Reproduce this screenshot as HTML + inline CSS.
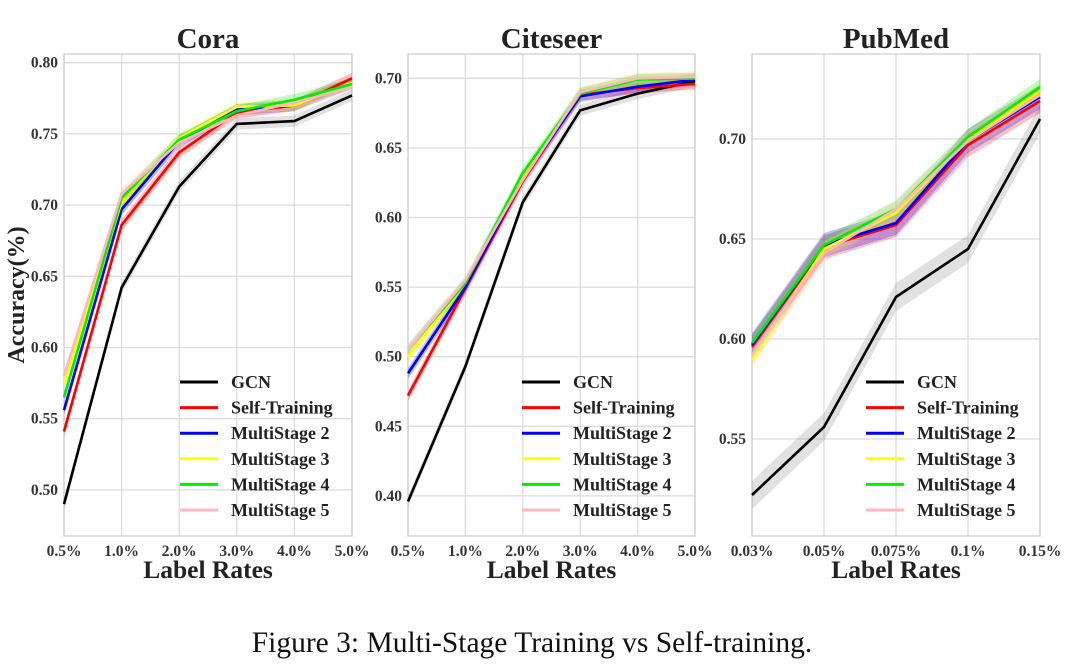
<!DOCTYPE html>
<html><head><meta charset="utf-8">
<style>
html,body{margin:0;padding:0;background:#fff;}
svg{display:block;font-family:"Liberation Serif",serif;}
</style></head>
<body>
<svg id="fig" width="1080" height="671" viewBox="0 0 1080 671"></svg>
<script>
const seriesNames = ["GCN","Self-Training","MultiStage 2","MultiStage 3","MultiStage 4","MultiStage 5"];
const seriesColors = ["#000000","#ff0000","#0000ff","#ffff00","#00ee00","#ffb6c1"];

const coraCats = ["0.5%","1.0%","2.0%","3.0%","4.0%","5.0%"];
const coraTicks = [0.50,0.55,0.60,0.65,0.70,0.75,0.80];
const coraGCN = [0.490,0.642,0.713,0.757,0.759,0.777];
const coraSelf = [0.541,0.686,0.737,0.765,0.770,0.789];
const coraMS2 = [0.556,0.697,0.745,0.767,0.770,0.786];
const coraMS3 = [0.575,0.702,0.747,0.769,0.770,0.786];
const coraMS4 = [0.565,0.705,0.746,0.766,0.774,0.785];
const coraMS5 = [0.580,0.708,0.744,0.763,0.772,0.783];

const citeCats = ["0.5%","1.0%","2.0%","3.0%","4.0%","5.0%"];
const citeTicks = [0.40,0.45,0.50,0.55,0.60,0.65,0.70];
const citeGCN = [0.396,0.493,0.611,0.677,0.689,0.698];
const citeSelf = [0.472,0.549,0.626,0.688,0.693,0.696];
const citeMS2 = [0.488,0.550,0.628,0.687,0.694,0.699];
const citeMS3 = [0.500,0.553,0.630,0.689,0.699,0.700];
const citeMS4 = [0.505,0.553,0.632,0.689,0.699,0.700];
const citeMS5 = [0.505,0.555,0.627,0.690,0.700,0.701];

const pubCats = ["0.03%","0.05%","0.075%","0.1%","0.15%"];
const pubTicks = [0.55,0.60,0.65,0.70];
const pubGCN = [0.522,0.556,0.621,0.645,0.710];
const pubSelf = [0.596,0.646,0.657,0.697,0.719];
const pubMS2 = [0.597,0.647,0.658,0.699,0.721];
const pubMS3 = [0.590,0.645,0.663,0.700,0.724];
const pubMS4 = [0.598,0.647,0.665,0.701,0.726];
const pubMS5 = [0.592,0.643,0.665,0.699,0.722];
const pubBand = [0.007,0.006,0.006,0.004,0.004,0.005];

const NS="http://www.w3.org/2000/svg";
const svg=document.getElementById('fig');
function mk(tag,attrs,parent){const e=document.createElementNS(NS,tag);for(const k in attrs)e.setAttribute(k,attrs[k]);(parent||svg).appendChild(e);return e;}

const panels=[
 {key:"cora",title:"Cora",cats:coraCats,ticks:coraTicks,series:[coraGCN,coraSelf,coraMS2,coraMS3,coraMS4,coraMS5],
  x0:64,x1:352,top:54,bottom:536,refV:0.80,refY:62.7,pxPer:71.2/0.05,band:0.004,legX:180,legY:382},
 {key:"citeseer",title:"Citeseer",cats:citeCats,ticks:citeTicks,series:[citeGCN,citeSelf,citeMS2,citeMS3,citeMS4,citeMS5],
  x0:408,x1:695,top:54,bottom:536,refV:0.70,refY:78.3,pxPer:69.6/0.05,band:0.004,legX:522,legY:382},
 {key:"pubmed",title:"PubMed",cats:pubCats,ticks:pubTicks,series:[pubGCN,pubSelf,pubMS2,pubMS3,pubMS4,pubMS5],
  x0:752,x1:1040,top:54,bottom:536,refV:0.70,refY:139,pxPer:100/0.05,bands:pubBand,legX:866,legY:382}
];

panels.forEach(p=>{
  const g=mk('g',{});
  
  
  const xs=i=>p.x0+(p.x1-p.x0)*i/(p.cats.length-1);
  const ys=v=>p.refY+(p.refV-v)*p.pxPer;
  const cx=(p.x0+p.x1)/2;
  const t=mk('text',{x:cx,y:48,'text-anchor':'middle','font-size':29,'font-weight':'bold',fill:'#222'},g);
  t.textContent=p.title;
  
  
  p.ticks.forEach(v=>{
    const y=ys(v);
    const ln=mk('line',{x1:p.x0,x2:p.x1,y1:y,y2:y,stroke:'#dcdcdc','stroke-width':1.3},g);
    
    
    const tl=mk('text',{x:p.x0-6,y:y+5,'text-anchor':'end','font-size':15.5,'font-weight':'bold',fill:'#333'},g);
    tl.textContent=v.toFixed(2);
    
    
  });
  p.cats.forEach((c,i)=>{
    const x=xs(i);
    const ln=mk('line',{x1:x,x2:x,y1:p.top,y2:p.bottom,stroke:'#dcdcdc','stroke-width':1.3},g);
    
    
    const tl=mk('text',{x:x,y:556,'text-anchor':'middle','font-size':15.5,'font-weight':'bold',fill:'#333'},g);
    tl.textContent=c;
    
    
  });
  const fr=mk('rect',{x:p.x0,y:p.top,width:p.x1-p.x0,height:p.bottom-p.top,fill:'none',stroke:'#d0d0d0','stroke-width':1.3},g);
  
  
  const xl=mk('text',{x:cx,y:578,'text-anchor':'middle','font-size':25.5,'font-weight':'bold',fill:'#222'},g);
  xl.textContent='Label Rates';
  
  
  p.series.forEach((vals,si)=>{
    const b=p.bands?p.bands[si]:p.band;
    let d='';
    vals.forEach((v,i)=>{d+=(i?'L':'M')+xs(i)+','+ys(v+b);});
    for(let i=vals.length-1;i>=0;i--)d+='L'+xs(i)+','+ys(vals[i]-b);
    const band=mk('path',{d:d+'Z',fill:seriesColors[si]==='#000000'?'#888':seriesColors[si],opacity:0.25},g);
    
    
  });
  p.series.forEach((vals,si)=>{
    const pts=vals.map((v,i)=>xs(i)+','+ys(v)).join(' ');
    const pl=mk('polyline',{points:pts,fill:'none',stroke:seriesColors[si],'stroke-width':2.6,'stroke-linejoin':'round'},g);
    
    
  });
  const lg=mk('g',{},g);
  
  
  seriesNames.forEach((n,si)=>{
    const y=p.legY+si*25.6;
    const ll=mk('line',{x1:p.legX,x2:p.legX+38,y1:y,y2:y,stroke:seriesColors[si],'stroke-width':3},lg);
    
    
    const lt=mk('text',{x:p.legX+51,y:y+6,'font-size':18,'font-weight':'bold',fill:'#222'},lg);
    lt.textContent=n;
    
    
  });
});
const yl=mk('text',{x:0,y:0,transform:'translate(24,295) rotate(-90)','text-anchor':'middle','font-size':24,'font-weight':'bold',fill:'#222'});
yl.textContent='Accuracy(%)';


const cap=mk('text',{x:532,y:652,'text-anchor':'middle','font-size':29.5,fill:'#111'});
cap.textContent='Figure 3: Multi-Stage Training vs Self-training.';


</script>
</body></html>
